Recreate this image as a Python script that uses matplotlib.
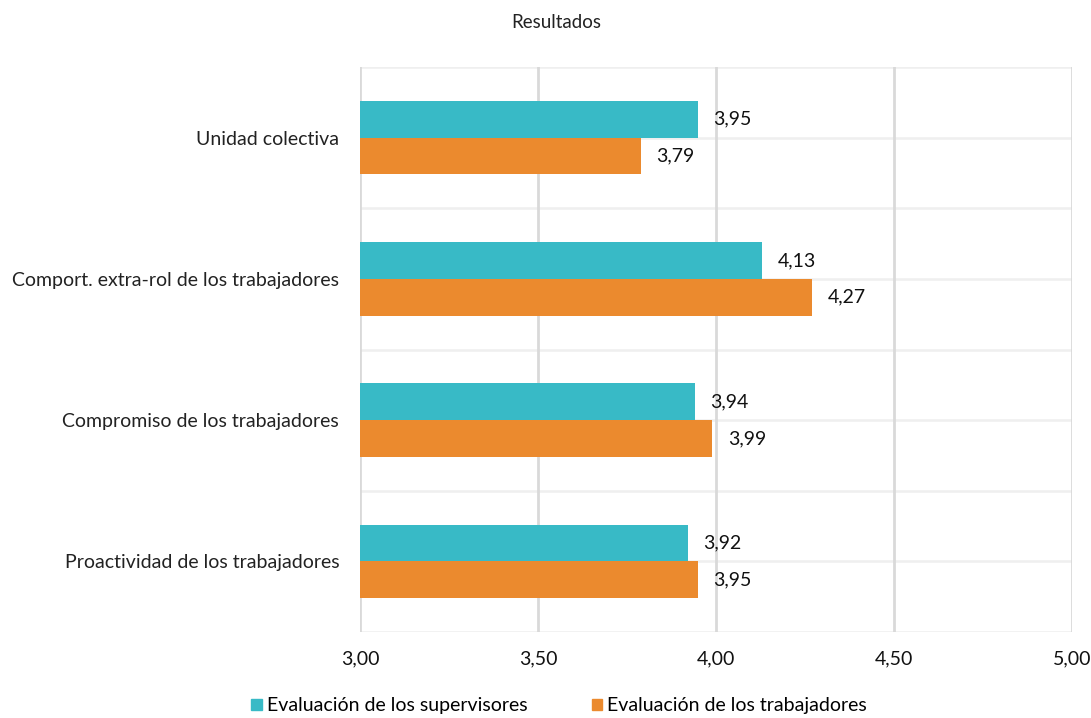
import matplotlib
matplotlib.use("Agg")
import matplotlib.pyplot as plt
import numpy as np

categories = ["Unidad colectiva", "Comport. extra-rol de los trabajadores",
              "Compromiso de los trabajadores", "Proactividad de los trabajadores"]
supervisores = [3.95, 4.13, 3.94, 3.92]
trabajadores = [3.79, 4.27, 3.99, 3.95]
series_names = ["Evaluación de los supervisores", "Evaluación de los trabajadores"]
xticks = [3.0, 3.5, 4.0, 4.5, 5.0]

plt.rcParams['font.family'] = ['Lato', 'DejaVu Sans']
FS = 14

fig = plt.figure(figsize=(10.91, 7.18), dpi=100)
ax = fig.add_axes([360/1091, 1-632/718, (1072-360)/1091, (632-67)/718])

teal = "#38BAC6"
orange = "#EB8A2E"
n = len(categories)
ypos = np.arange(n)
h = 0.26

ax.barh(ypos - h/2, supervisores, height=h, color=teal, zorder=3)
ax.barh(ypos + h/2, trabajadores, height=h, color=orange, zorder=3)

for i in range(n):
    ax.annotate(f"{supervisores[i]:.2f}".replace(".", ","), (supervisores[i], ypos[i] - h/2),
                xytext=(11, 0), textcoords="offset points", va="center", ha="left",
                fontsize=FS, color="#111111", zorder=4)
    ax.annotate(f"{trabajadores[i]:.2f}".replace(".", ","), (trabajadores[i], ypos[i] + h/2),
                xytext=(11, 0), textcoords="offset points", va="center", ha="left",
                fontsize=FS, color="#111111", zorder=4)

ax.set_xlim(3.0, 5.0)
ax.set_ylim(n - 0.5, -0.5)
ax.set_xticks(xticks)
ax.set_xticklabels([f"{t:.2f}".replace(".", ",") for t in xticks], fontsize=FS, color="#111111")
ax.set_yticks(ypos)
ax.set_yticklabels(categories, fontsize=FS, color="#222222")
ax.tick_params(axis='both', length=0)
ax.tick_params(axis='x', pad=13)
ax.tick_params(axis='y', pad=15)

# horizontal faint lines
for yv in np.arange(-0.5, n, 0.5):
    ax.axhline(yv, color="#EFEFEF", lw=1.8, zorder=1)
# vertical gridlines
for xv in xticks:
    ax.axvline(xv, color="#D9D9D9", lw=2.0, zorder=2)

for s in ax.spines.values():
    s.set_visible(False)

fig.text(556/1091, 1-22/718, "Resultados", ha="center", va="center", fontsize=13.5, color="#222222")

from matplotlib.patches import Patch
handles = [Patch(color=teal), Patch(color=orange)]
fig.legend(handles, series_names, loc="center", bbox_to_anchor=(559/1091, 1-706/718),
           ncol=2, frameon=False, fontsize=FS, handlelength=0.55, handleheight=0.55,
           handletextpad=0.25, columnspacing=3.3)

fig.savefig("out.png", dpi=100)
